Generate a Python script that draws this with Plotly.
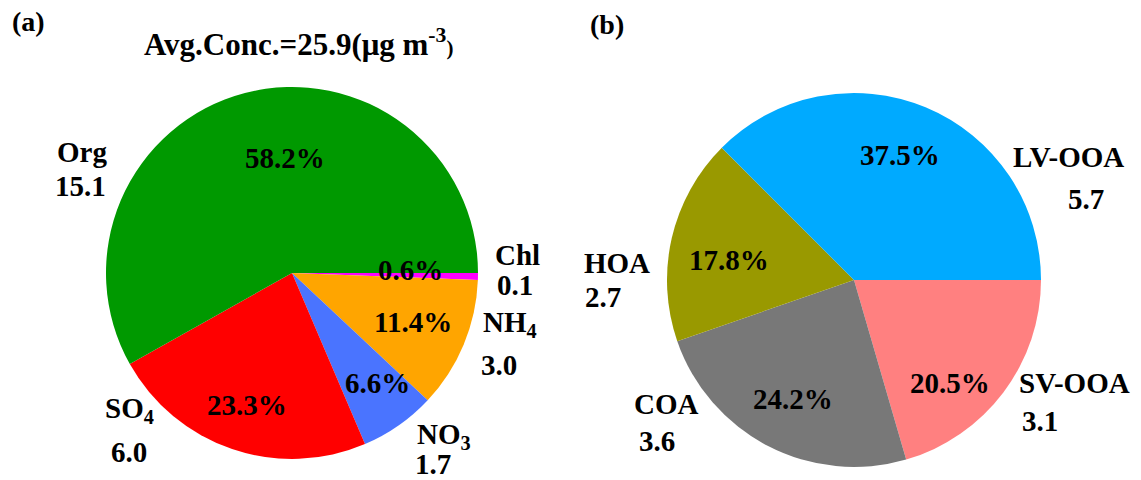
import plotly.graph_objects as go

# ---- data -------------------------------------------------------------
# (a) PM1 species: share of total mass (%) and mean concentration (ug m-3)
species = ["Org", "SO<sub>4</sub>", "NO<sub>3</sub>", "NH<sub>4</sub>", "Chl"]
species_pct = [58.2, 23.3, 6.6, 11.4, 0.6]
species_conc = [15.1, 6.0, 1.7, 3.0, 0.1]
avg_conc = 25.9

# (b) OA factors: share of organics (%) and mean concentration (ug m-3)
factors = ["LV-OOA", "HOA", "COA", "SV-OOA"]
factor_pct = [37.5, 17.8, 24.2, 20.5]
factor_conc = [5.7, 2.7, 3.6, 3.1]

# ---- styling ------------------------------------------------------------
W, H = 1141, 480
species_colors = ["#009900", "#ff0000", "#4a74ff", "#ffa500", "#ff00ff"]
factor_colors = ["#00aaff", "#999900", "#787878", "#ff8080"]
FONT = "Liberation Serif, Times New Roman, serif"
FS = 29

# label anchor points in pixels (centre of each text)
species_pct_pos = [(285, 158), (247, 405), (377, 383), (413, 322), (410, 270)]
species_name_pos = [(82, 152), (129, 410), (444, 436), (510, 324), (517, 255)]
species_conc_pos = [(80, 186), (129, 452), (433, 464), (499, 365), (515, 285)]
factor_pct_pos = [(900, 155), (729, 260), (793, 399), (950, 383)]
factor_name_pos = [(1068, 157), (617, 263), (666, 404), (1074, 383)]
factor_conc_pos = [(1086, 199), (603, 297), (657, 441), (1040, 421)]


def px_to_paper(p):
    return p[0] / W, 1 - p[1] / H


def dom(cx, cy, r):
    return dict(x=[(cx - r) / W, (cx + r) / W], y=[1 - (cy + r) / H, 1 - (cy - r) / H])


def pie(values, names, colors, domain):
    # slices run counter-clockwise from 3 o'clock: feed them reversed, clockwise
    return go.Pie(
        values=values[::-1], labels=names[::-1],
        marker=dict(colors=colors[::-1], line=dict(width=0)),
        sort=False, direction="clockwise", rotation=90,
        textinfo="none", hoverinfo="label+percent", showlegend=False,
        domain=domain,
    )


fig = go.Figure()
fig.add_trace(pie(species_pct, ["Org", "SO4", "NO3", "NH4", "Chl"],
                  species_colors, dom(292, 273, 186)))
fig.add_trace(pie(factor_pct, factors, factor_colors, dom(854, 280, 187)))

annotations = []


def label(text, pos, size=FS):
    x, y = px_to_paper(pos)
    annotations.append(dict(
        text=text, x=x, y=y, xref="paper", yref="paper",
        xanchor="center", yanchor="middle", showarrow=False,
        font=dict(family=FONT, size=size, color="black", weight="bold"),
    ))


for name, pct, conc, pp, np_, cp in zip(species, species_pct, species_conc,
                                         species_pct_pos, species_name_pos, species_conc_pos):
    label(f"{pct:.1f}%", pp)
    label(name, np_)
    label(f"{conc:.1f}", cp)

for name, pct, conc, pp, np_, cp in zip(factors, factor_pct, factor_conc,
                                         factor_pct_pos, factor_name_pos, factor_conc_pos):
    label(f"{pct:.1f}%", pp)
    label(name, np_)
    label(f"{conc:.1f}", cp)

label("(a)", (28, 22), 28)
label("(b)", (607, 24), 28)
label(f"Avg.Conc.={avg_conc}(\u03bcg m<sup>-3</sup><span style='font-size:21px'>)</span>",
      (298, 42), 31)

fig.update_layout(
    width=W, height=H,
    margin=dict(l=0, r=0, t=0, b=0),
    paper_bgcolor="white", plot_bgcolor="white",
    annotations=annotations,
)

fig.write_html("out.html")
